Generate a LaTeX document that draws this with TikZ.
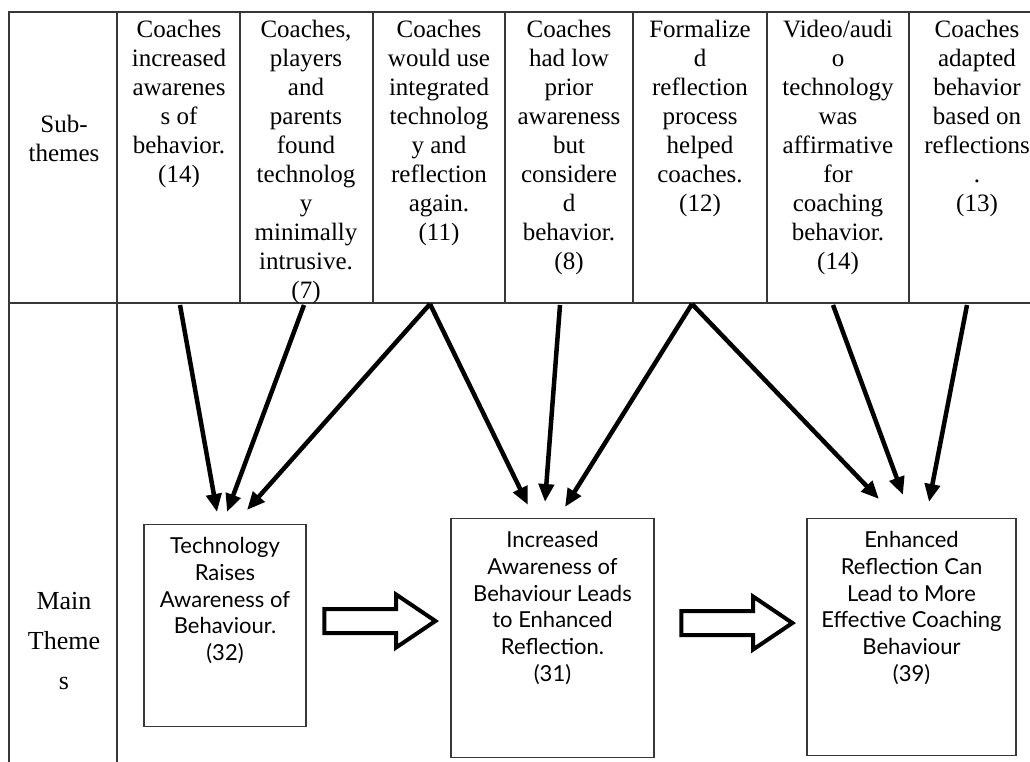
\documentclass[tikz,border=0pt]{standalone}
\usepackage{fontspec}
\setmainfont{Liberation Serif}
\newfontfamily\gillfont{Lato}
\usetikzlibrary{shapes,arrows.meta,positioning,calc}
\definecolor{gridGrey}{RGB}{55,55,55}

\begin{document}
\begin{tikzpicture}[x=1pt,y=-1pt,
    subtext/.style={anchor=north,align=center,inner sep=0pt,font=\fontsize{25}{29}\selectfont},
    themebox/.style={draw=gridGrey,line width=1.3pt,anchor=north,align=center,inner ysep=13pt,font=\gillfont\fontsize{22}{26.7}\selectfont},
    flow/.style={line width=4.5pt,-{Triangle[length=18pt,width=15pt]}},
    hollow/.style={draw,line width=4pt,single arrow,single arrow head extend=14.5pt,single arrow tip angle=68,minimum height=111pt,inner xsep=0pt,inner ysep=10pt}]
    \useasboundingbox (0,0) rectangle (1030,762);

    % Table
    \draw[gridGrey,line width=1.3pt] (1030,12) -- (9,12) -- (9,762);
    \draw[gridGrey,line width=1.3pt] (9,303) -- (1030,303);
    \draw[gridGrey,line width=1.3pt] (117,12) -- (117,762);
    \foreach \x in {240,373,505,633,767,909} {
        \draw[gridGrey,line width=1.3pt] (\x,12) -- (\x,303);
    }

    % Row labels
    \node[subtext] (subLabel) at (64,115) {Sub-\\themes};
    \node[subtext,font=\fontsize{26}{40}\selectfont] (mainLabel) at (64,592) {Main\\Theme\\s};

    % Sub-themes
    \node[subtext] (sub1) at (179,20) {Coaches\\increased\\awarenes\\s of\\behavior.\\(14)};
    \node[subtext] (sub2) at (306,20) {Coaches,\\players\\and\\parents\\found\\technolog\\y\\minimally\\intrusive.\\(7)};
    \node[subtext] (sub3) at (439,20) {Coaches\\would use\\integrated\\technolog\\y and\\reflection\\again.\\(11)};
    \node[subtext] (sub4) at (569,20) {Coaches\\had low\\prior\\awareness\\but\\considere\\d\\behavior.\\(8)};
    \node[subtext] (sub5) at (700,20) {Formalize\\d\\reflection\\process\\helped\\coaches.\\(12)};
    \node[subtext] (sub6) at (838,20) {Video/audi\\o\\technology\\was\\affirmative\\for\\coaching\\behavior.\\(14)};
    \node[subtext] (sub7) at (977,20) {Coaches\\adapted\\behavior\\based on\\reflections\\.\\(13)};

    % Main themes
    \node[themebox,minimum width=162pt,text depth=53pt] (tech) at (225,524)
        {Technology\\Raises\\Awareness of\\Behaviour.\\(32)};
    \node[themebox,minimum width=203pt,text depth=63pt] (aware) at (552.5,518)
        {Increased\\Awareness of\\Behaviour Leads\\to Enhanced\\Reflection.\\(31)};
    \node[themebox,minimum width=209pt,text depth=61pt] (enhance) at (911.5,518)
        {Enhanced\\Reflection Can\\Lead to More\\Effective Coaching\\Behaviour\\(39)};

    \node[hollow] (go1) at (371,621) {};
    \node[hollow] (go2) at (728,623) {};

    % Arrow ends
    \coordinate (s1) at (180,305);
    \coordinate (s2) at (304,305);
    \coordinate (s3) at (430,304);
    \coordinate (s4) at (560,305);
    \coordinate (s5) at (692,304);
    \coordinate (s6) at (833,305);
    \coordinate (s7) at (967,305);
    \coordinate (t1) at (217,512);
    \coordinate (t2) at (227,512);
    \coordinate (t3) at (247,510);
    \coordinate (t4) at (528,505);
    \coordinate (t5) at (545,502);
    \coordinate (t6) at (565,507);
    \coordinate (t7) at (879,499);
    \coordinate (t8) at (903,495);
    \coordinate (t9) at (929,502);

    \foreach \s/\t in {s1/t1,s2/t2,s3/t3,s3/t4,s4/t5,s5/t6,s5/t7,s6/t8,s7/t9} {
        \draw[flow] (\s) -- (\t);
    }
\end{tikzpicture}
\end{document}
